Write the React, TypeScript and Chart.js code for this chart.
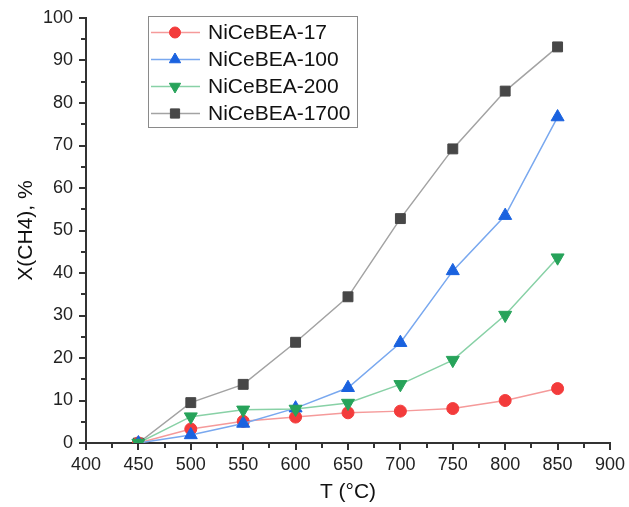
import React, { useEffect, useRef } from "react";
import { Chart, registerables } from "chart.js";
import { drawPoint } from "chart.js/helpers";

Chart.register(...registerables);

const temperatures = [450, 500, 550, 600, 650, 700, 750, 800, 850];
const series17 = [0, 3.3, 5.1, 6.1, 7.1, 7.5, 8.1, 10.0, 12.8];
const series100 = [0, 1.9, 4.6, 8.2, 13.0, 23.6, 40.5, 53.5, 76.7];
const series200 = [0, 6.2, 7.8, 8.0, 9.4, 13.8, 19.5, 30.1, 43.6];
const series1700 = [0, 9.5, 13.8, 23.7, 34.4, 52.8, 69.2, 82.8, 93.2];
const seriesLabels = ["NiCeBEA-17", "NiCeBEA-100", "NiCeBEA-200", "NiCeBEA-1700"];
const xTitle = "T (°C)";
const yTitle = "X(CH4), %";

const FONT = "'Liberation Sans', Arial, Helvetica, sans-serif";

const minorTicks = {
  id: "minorTicks",
  afterDraw(chart: any) {
    const ctx = chart.ctx;
    const xs = chart.scales.x;
    const ys = chart.scales.y;
    ctx.save();
    ctx.strokeStyle = "#333";
    ctx.lineWidth = 2;
    ctx.beginPath();
    for (let v = 425; v < 900; v += 50) {
      const px = Math.round(xs.getPixelForValue(v));
      ctx.moveTo(px, xs.top);
      ctx.lineTo(px, xs.top + 5);
    }
    for (let v = 5; v < 100; v += 10) {
      const py = Math.round(ys.getPixelForValue(v));
      ctx.moveTo(ys.right - 5, py);
      ctx.lineTo(ys.right, py);
    }
    ctx.stroke();
    ctx.restore();
  },
};

const boxLegend = {
  id: "boxLegend",
  afterDraw(chart: any) {
    const ctx = chart.ctx;
    const dss = chart.data.datasets;
    const left = 148, top = 16, right = 358, bottom = 128;
    ctx.save();
    ctx.fillStyle = "#fff";
    ctx.fillRect(left, top, right - left, bottom - top);
    ctx.strokeStyle = "#8a8a8a";
    ctx.lineWidth = 1;
    ctx.strokeRect(left + 0.5, top + 0.5, right - left - 1, bottom - top - 1);
    const rowH = (bottom - top - 4) / dss.length;
    dss.forEach((ds: any, i: number) => {
      const y = top + 3 + rowH * (i + 0.5);
      ctx.strokeStyle = ds.borderColor;
      ctx.lineWidth = 1.5;
      ctx.beginPath();
      ctx.moveTo(151, y);
      ctx.lineTo(200, y);
      ctx.stroke();
      ctx.fillStyle = ds.pointBackgroundColor;
      ctx.strokeStyle = ds.pointBackgroundColor;
      ctx.lineWidth = 1;
      drawPoint(ctx, { pointStyle: ds.pointStyle, rotation: ds.pointRotation || 0, radius: ds.pointStyle === "circle" ? 5.5 : 6.5, borderWidth: 1 }, 175, y);
      ctx.fillStyle = "#111";
      ctx.font = `21px ${FONT}`;
      ctx.textBaseline = "middle";
      ctx.textAlign = "left";
      ctx.fillText(ds.label, 208, y + 1);
    });
    ctx.restore();
  },
};

export default function App() {
  const ref = useRef<HTMLCanvasElement | null>(null);
  useEffect(() => {
    if (!ref.current) return;
    const mk = (label: string, data: number[], line: string, mark: string, style: string, rot: number, r: number, order: number) => ({
      label,
      data: temperatures.map((t, i) => ({ x: t, y: data[i] })),
      borderColor: line,
      borderWidth: 1.5,
      pointBackgroundColor: mark,
      pointBorderColor: mark,
      pointBorderWidth: 1,
      pointStyle: style,
      pointRotation: rot,
      pointRadius: r,
      clip: 0,
      order,
    });
    const chart = new Chart(ref.current, {
      type: "line",
      data: {
        datasets: [
          mk(seriesLabels[0], series17, "#f59a9a", "#f33b3b", "circle", 0, 6, 2),
          mk(seriesLabels[1], series100, "#79a8ef", "#1a62df", "triangle", 0, 7.5, 1),
          mk(seriesLabels[2], series200, "#88d1a6", "#27a35a", "triangle", 180, 7.5, 0),
          mk(seriesLabels[3], series1700, "#a3a3a3", "#474747", "rect", 0, 7, 3),
        ] as any,
      },
      options: {
        animation: false,
        responsive: false,
        events: [],
        layout: { padding: { top: 18, right: 16, left: 0, bottom: 0 } },
        plugins: { legend: { display: false }, tooltip: { enabled: false } },
        scales: {
          x: {
            type: "linear",
            min: 400,
            max: 900,
            afterFit: (s: any) => { s.height = 64; },
            ticks: { stepSize: 50, color: "#222", font: { family: FONT, size: 18 }, padding: 4, maxRotation: 0 },
            grid: { display: true, drawOnChartArea: false, drawTicks: true, tickLength: 7, color: "#333", lineWidth: 2 },
            border: { display: true, color: "#333", width: 2 },
            title: { display: true, text: xTitle, color: "#111", font: { family: FONT, size: 21 }, padding: { top: 0, bottom: 2 } },
          },
          y: {
            type: "linear",
            min: 0,
            max: 100,
            afterFit: (s: any) => { s.width = 86; },
            ticks: { stepSize: 10, color: "#222", font: { family: FONT, size: 18 }, padding: 6 },
            grid: { display: true, drawOnChartArea: false, drawTicks: true, tickLength: 7, color: "#333", lineWidth: 2 },
            border: { display: true, color: "#333", width: 2 },
            title: { display: true, text: yTitle, color: "#111", font: { family: FONT, size: 21 }, padding: { top: 14, bottom: 0 } },
          },
        },
      },
      plugins: [minorTicks, boxLegend],
    });
    return () => chart.destroy();
  }, []);
  return (
    <div style={{ position: "fixed", left: 0, top: 0, width: 629, height: 507, background: "#fff" }}>
      <canvas ref={ref} width={629} height={507} style={{ display: "block" }} />
    </div>
  );
}
